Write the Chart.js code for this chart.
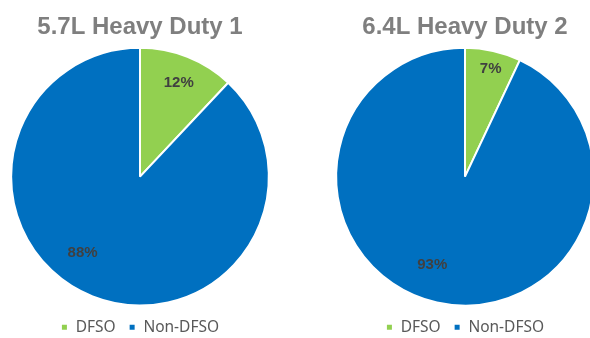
<!DOCTYPE html>
<html>
<head>
<meta charset="utf-8">
<script src="https://cdn.jsdelivr.net/npm/chart.js@4/dist/chart.umd.min.js"></script>
<style>
  html, body { margin: 0; padding: 0; background: #ffffff; width: 590px; height: 338px; overflow: hidden; }
  .box { position: absolute; top: 0; width: 280px; height: 345px; }
  #b1 { left: 0px; }
  #b2 { left: 325px; }
</style>
</head>
<body>
<div class="box" id="b1"><canvas id="c1"></canvas></div>
<div class="box" id="b2"><canvas id="c2"></canvas></div>
<script>
// ---- data ----
const categories = ["DFSO", "Non-DFSO"];
const titles = ["5.7L Heavy Duty 1", "6.4L Heavy Duty 2"];
const engine1Values = [12, 88];
const engine2Values = [7, 93];

const colors = ["#92D050", "#0070C0"];

const sliceLabels = {
  id: "sliceLabels",
  afterDatasetsDraw(chart, args, opts) {
    const ctx = chart.ctx;
    const meta = chart.getDatasetMeta(0);
    const data = chart.data.datasets[0].data;
    ctx.save();
    ctx.font = "bold 15px 'Liberation Sans', Arial, sans-serif";
    ctx.fillStyle = "#404040";
    ctx.textAlign = "center";
    ctx.textBaseline = "middle";
    meta.data.forEach((arc, i) => {
      const p = arc.getProps(["x", "y", "startAngle", "endAngle", "outerRadius"], true);
      const a = (p.startAngle + p.endAngle) / 2 + (opts.shift[i] || 0) * Math.PI / 180;
      const r = p.outerRadius * opts.frac[i];
      ctx.fillText(data[i] + "%", p.x + Math.cos(a) * r, p.y + Math.sin(a) * r);
    });
    ctx.restore();
  }
};

function makePie(id, title, values, shift, frac) {
  return new Chart(document.getElementById(id), {
    type: "pie",
    data: {
      labels: categories,
      datasets: [{
        data: values,
        backgroundColor: colors,
        borderColor: "#ffffff",
        borderWidth: 2
      }]
    },
    plugins: [sliceLabels],
    options: {
      responsive: true,
      maintainAspectRatio: false,
      animation: false,
      events: [],
      layout: { padding: { top: 0, bottom: 0, left: 0, right: 0 } },
      plugins: {
        tooltip: { enabled: false },
        title: {
          display: true,
          text: title,
          color: "#7F7F7F",
          font: { family: "'Liberation Sans', Arial, sans-serif", size: 24, weight: "bold" },
          padding: { top: 13, bottom: 5 }
        },
        legend: {
          position: "bottom",
          labels: {
            usePointStyle: true,
            pointStyle: "rect",
            boxWidth: 7,
            boxHeight: 7,
            padding: 13,
            color: "#595959",
            font: { family: "'Noto Sans', sans-serif", size: 15.5 }
          }
        },
        sliceLabels: { shift: shift, frac: frac }
      }
    }
  });
}

makePie("c1", titles[0], engine1Values, [0.8, 15.4], [0.79, 0.74]);
makePie("c2", titles[1], engine2Values, [0.8, 7.8], [0.86, 0.73]);
</script>
</body>
</html>
